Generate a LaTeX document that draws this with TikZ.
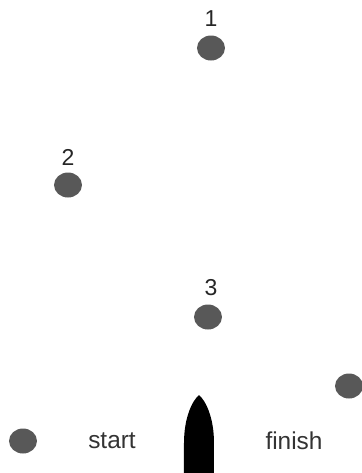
\documentclass[tikz,border=0pt]{standalone}
\usepackage{fontspec}
\setmainfont{Liberation Sans}
\usetikzlibrary{shapes.geometric, positioning}
\definecolor{markgray}{HTML}{585858}
\tikzset{
  buoy/.style={ellipse, fill=markgray, minimum width=14pt, minimum height=12.5pt, inner sep=0pt},
  num/.style={font=\fontsize{11.5}{12}\selectfont, text=black!85, inner sep=0pt},
  lbl/.style={font=\fontsize{12.2}{13}\selectfont, text=black!80, inner sep=0pt}
}
\begin{document}
\begin{tikzpicture}[x=0.5pt, y=-0.5pt]
        \useasboundingbox (0,0) rectangle (361,473);
        % course marks
        \node[buoy] (wp1) at (211,48) {};
        \node[buoy] (wp2) at (68,185) {};
        \node[buoy] (wp3) at (208,317) {};
        \node[buoy] (wp4) at (349,386) {};
        \node[buoy] (startbuoy) at (23,441) {};
        \node[num] (n1) at (211,19) {1};
        \node[num] (n2) at (68,157) {2};
        \node[num] (n3) at (211,288) {3};
        \node[lbl] (start) at (112,441) {start};
        \node[lbl] (finish) at (294,441) {finish};
        % boat
        \fill[black] (184,473) -- (184,443) .. controls (184,418) and (192,401) .. (199,395)
            .. controls (206,401) and (214,418) .. (214,443) -- (214,473) -- cycle;
    \end{tikzpicture}
\end{document}
